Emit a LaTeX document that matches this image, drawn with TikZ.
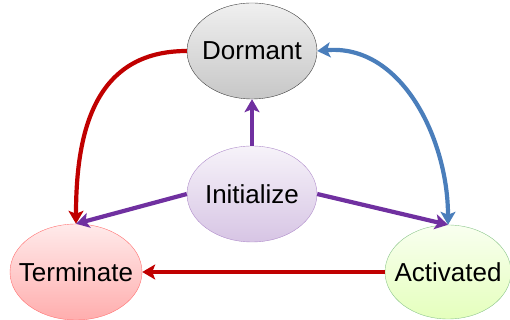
\documentclass[tikz,border=0pt]{standalone}
\usepackage{fontspec}
\setmainfont{Liberation Sans}
\usetikzlibrary{shapes.geometric,arrows.meta,positioning}
\definecolor{redline}{HTML}{C00000}
\definecolor{blueline}{HTML}{4A7EBB}
\definecolor{purpleline}{HTML}{7030A0}
\newcommand{\StateText}[1]{\makebox[0pt]{#1}}
\tikzset{
  state/.style={ellipse, inner sep=0pt, minimum width=130pt, minimum height=96pt,
    font=\fontsize{26}{29}\selectfont},
  link/.style={line width=4.2pt, -{Stealth[length=13pt,width=15pt,inset=3pt]}}
}

\begin{document}
\begin{tikzpicture}[x=1pt,y=1pt]
    \useasboundingbox (0,0) rectangle (510,320);

    \node[state, draw=black!75, top color=black!6, bottom color=black!22] (dormant) at (252,269) {\StateText{Dormant}};
    \node[state, draw=purpleline!55, top color=purpleline!6, bottom color=purpleline!28] (init) at (252,126) {\StateText{Initialize}};
    \node[state, draw=red!55, top color=red!8, bottom color=red!32, minimum width=132pt] (term) at (76,48) {\StateText{Terminate}};
    \node[state, draw=green!50!black!45, top color=green!40!yellow!6, bottom color=green!40!yellow!26, minimum width=126pt, minimum height=94pt] (act) at (448,48) {\StateText{Activated}};

    \draw[link, redline] (dormant.west) to[out=180,in=90,looseness=1.15] (term.north);
    \draw[link, blueline, {Stealth[length=13pt,width=15pt,inset=3pt]}-{Stealth[length=13pt,width=15pt,inset=3pt]}] (dormant.east) to[out=5,in=90] (act.north);
    \draw[link, purpleline] (init.north) -- (dormant.south);
    \draw[link, purpleline] (init.west) -- (term.north);
    \draw[link, purpleline] (init.east) -- (act.north);
    \draw[link, redline] (act.west) -- (term.east);
\end{tikzpicture}
\end{document}
